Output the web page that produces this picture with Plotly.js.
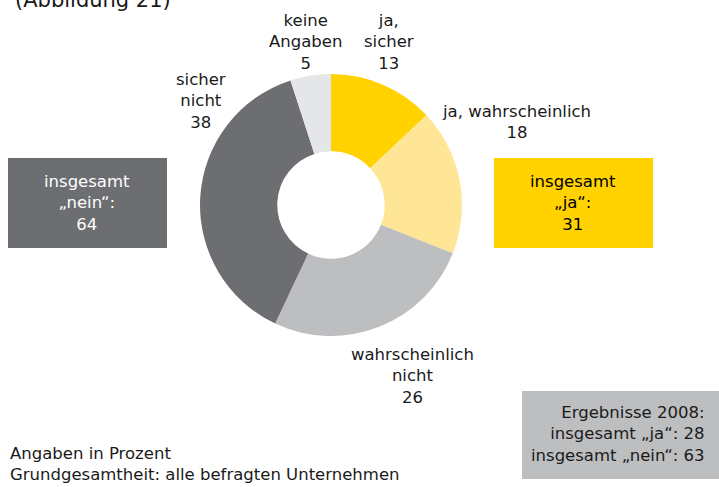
<!DOCTYPE html>
<html><head><meta charset="utf-8">
<script src="https://cdn.plot.ly/plotly-3.0.1.min.js"></script>
<style>html,body{margin:0;padding:0;background:#fff}#c{width:719px;height:487px}</style>
</head><body><div id="c"></div>
<script>
const categories = ["ja, sicher", "ja, wahrscheinlich", "wahrscheinlich nicht", "sicher nicht", "keine Angaben"];
const values = [13, 18, 26, 38, 5];
const labelTexts = ["ja,<br>sicher", "ja, wahrscheinlich", "wahrscheinlich<br>nicht", "sicher<br>nicht", "keine<br>Angaben"];
const totalJa = 31;
const totalNein = 64;
const prev2008Ja = 28;
const prev2008Nein = 63;
const colors = ["#FFD200", "#FFE697", "#BDBEC0", "#6D6E71", "#E5E6E8"];

const W = 719, H = 487;
const px = x => x / W;
const py = y => 1 - y / H;
const FONT = "DejaVu Sans";
const FS = 16.5;

// label anchor positions in pixels (center)
const labelPos = [[389, 42], [516, 122], [412, 376], [201, 101], [305, 42]];

const annotations = categories.map((c, i) => ({
  xref: "paper", yref: "paper", x: px(labelPos[i][0]), y: py(labelPos[i][1]),
  xanchor: "center", yanchor: "middle", showarrow: false, borderpad: 0,
  text: labelTexts[i] + "<br>" + values[i],
  font: {family: FONT, size: FS, color: "#1a1a1a"}
}));

annotations.push(
  {xref: "paper", yref: "paper", x: px(87), y: py(203), xanchor: "center", yanchor: "middle", showarrow: false,
   text: "insgesamt<br>„nein“:<br>" + totalNein, font: {family: FONT, size: FS, color: "#ffffff"}},
  {xref: "paper", yref: "paper", x: px(573), y: py(203), xanchor: "center", yanchor: "middle", showarrow: false,
   text: "insgesamt<br>„ja“:<br>" + totalJa, font: {family: FONT, size: FS, color: "#000000"}},
  {xref: "paper", yref: "paper", x: px(707), y: py(434), xanchor: "right", yanchor: "middle", showarrow: false, align: "right",
   text: "Ergebnisse 2008:<br>insgesamt „ja“: " + prev2008Ja + "<br>insgesamt „nein“: " + prev2008Nein,
   font: {family: FONT, size: FS, color: "#1a1a1a"}},
  {xref: "paper", yref: "paper", x: px(8), y: py(464), xanchor: "left", yanchor: "middle", showarrow: false, align: "left",
   text: "Angaben in Prozent<br>Grundgesamtheit: alle befragten Unternehmen",
   font: {family: FONT, size: FS, color: "#1a1a1a"}},
  {xref: "paper", yref: "paper", x: px(13), y: py(0), xanchor: "left", yanchor: "middle", showarrow: false, align: "left",
   text: "(Abbildung 21)", font: {family: FONT, size: 21, color: "#1a1a1a"}}
);

const shapes = [
  {type: "rect", xref: "paper", yref: "paper", x0: px(8), x1: px(167), y0: py(248), y1: py(158), fillcolor: "#6D6E71", line: {width: 0}, layer: "below"},
  {type: "rect", xref: "paper", yref: "paper", x0: px(494), x1: px(653), y0: py(248), y1: py(158), fillcolor: "#FFD200", line: {width: 0}, layer: "below"},
  {type: "rect", xref: "paper", yref: "paper", x0: px(522), x1: px(719), y0: py(479), y1: py(391), fillcolor: "#BDBEC0", line: {width: 0}, layer: "below"}
];

const trace = {
  type: "pie", labels: categories, values: values, sort: false, direction: "clockwise", rotation: 0,
  hole: 0.41, textinfo: "none", hoverinfo: "label+value",
  marker: {colors: colors, line: {width: 0}},
  domain: {x: [px(200), px(462)], y: [py(336), py(74)]}
};

Plotly.newPlot("c", [trace], {
  width: W, height: H, margin: {l: 0, r: 0, t: 0, b: 0},
  paper_bgcolor: "#ffffff", showlegend: false,
  annotations: annotations, shapes: shapes
}, {staticPlot: true});
</script></body></html>
